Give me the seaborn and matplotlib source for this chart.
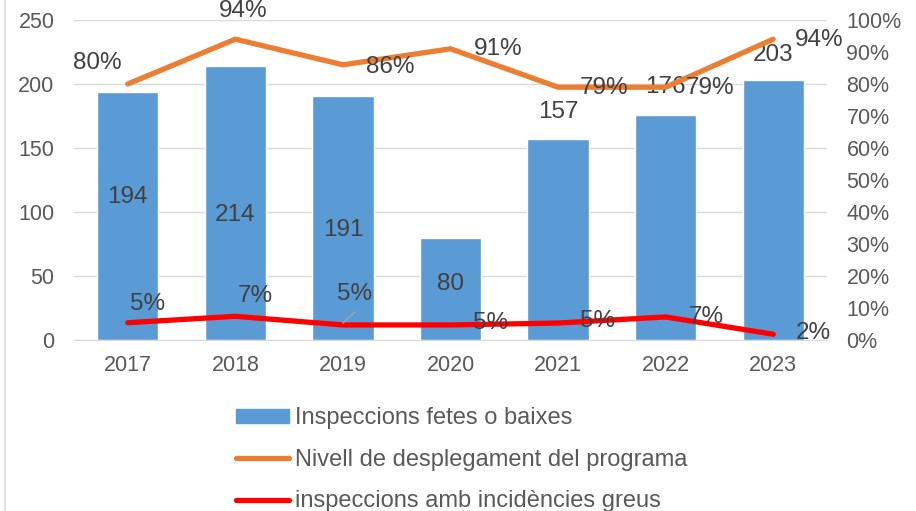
import numpy as np
import pandas as pd
import matplotlib
matplotlib.use("Agg")
import matplotlib.pyplot as plt
import seaborn as sns
from matplotlib.lines import Line2D
from matplotlib.patches import Patch

####Data#######################################################################
years = ["2017", "2018", "2019", "2020", "2021", "2022", "2023"]
inspeccions = [194, 214, 191, 80, 157, 176, 203]
desplegament = [0.80, 0.94, 0.86, 0.91, 0.79, 0.79, 0.94]
incidencies = [0.054, 0.074, 0.047, 0.047, 0.053, 0.072, 0.018]

bar_label = "Inspeccions fetes o baixes"
orange_label = "Nivell de desplegament del programa"
red_label = "inspeccions amb incidències greus"

####Style######################################################################
sns.set_style("white")
plt.rcParams['font.family'] = ['Liberation Sans', 'DejaVu Sans']

BLUE = "#5B9BD5"
ORANGE = "#ED7D31"
RED = "#FF0000"
TICK = "#595959"
LABEL = "#404040"
GRID = "#D9D9D9"

df = pd.DataFrame({"year": years, "n": inspeccions,
                   "pct": desplegament, "inc": incidencies})
df["pos"] = np.arange(len(df))

fig = plt.figure(figsize=(9.16, 5.11), dpi=100)
ax = fig.add_axes([74 / 916, 1 - 340 / 511, (827 - 74) / 916, 320 / 511])
ax2 = ax.twinx()

sns.barplot(data=df, x="year", y="n", color=BLUE, width=0.57,
            saturation=1, ax=ax)
ax.set_ylim(0, 250)
ax.set_yticks(range(0, 251, 50))
ax.set_xlim(-0.5, len(df) - 0.5)
ax.set_xlabel("")
ax.set_ylabel("")
ax.grid(axis="y", color=GRID, lw=1)
ax.set_axisbelow(True)
for s in ["top", "right", "left"]:
    ax.spines[s].set_visible(False)
ax.spines["bottom"].set_color(GRID)
ax.tick_params(axis="both", colors=TICK, labelsize=15.5, length=0)
ax.tick_params(axis="y", pad=14)
ax.tick_params(axis="x", pad=11)

sns.lineplot(data=df, x="pos", y="pct", color=ORANGE, lw=3.8, ax=ax2)
sns.lineplot(data=df, x="pos", y="inc", color=RED, lw=3.8, ax=ax2)
ax2.set_ylim(0, 1)
ax2.set_xlim(-0.5, len(df) - 0.5)
ax2.set_yticks(np.arange(0, 1.01, 0.1))
ax2.set_yticklabels([f"{int(round(v * 100))}%" for v in np.arange(0, 1.01, 0.1)])
ax2.set_xlabel("")
ax2.set_ylabel("")
for s in ax2.spines.values():
    s.set_visible(False)
ax2.tick_params(axis="y", colors=TICK, labelsize=15.5, length=0, pad=14)

####Data labels (Excel-style placement)########################################
bar_lbl_y = [112, 98, 86, 44, 178, 198, 223]
for i, v in enumerate(inspeccions):
    ax.text(i, bar_lbl_y[i], str(v), ha="center", va="center",
            fontsize=17.5, color=LABEL)

pct_dx = [-0.28, 0.07, 0.44, 0.44, 0.43, 0.41, 0.43]
pct_y = [0.866, 1.028, 0.853, 0.909, 0.787, 0.787, 0.9375]
for i, v in enumerate(desplegament):
    ax2.text(i + pct_dx[i], pct_y[i], f"{v:.0%}", ha="center", va="center",
             fontsize=17.5, color=LABEL)

inc_dx = [0.18, 0.19, 0.11, 0.37, 0.37, 0.38, 0.37]
inc_y = [0.113, 0.1375, 0.144, 0.053, 0.059, 0.072, 0.023]
for i, v in enumerate(incidencies):
    ax2.text(i + inc_dx[i], inc_y[i], f"{v:.0%}", ha="center", va="center",
             fontsize=17.5, color=LABEL)
# leader line for 2019 label
ax2.plot([2.0, 2.11], [0.053, 0.0875], color="#A6A6A6", lw=1)

####Chart border and legend####################################################
fig.add_artist(Line2D([5 / 916, 5 / 916], [0, 1], color=GRID, lw=1.2))

handles = [Patch(facecolor=BLUE, edgecolor=BLUE),
           Line2D([], [], color=ORANGE, lw=3.8, solid_capstyle="round"),
           Line2D([], [], color=RED, lw=3.8, solid_capstyle="round")]
fig.legend(handles, [bar_label, orange_label, red_label],
           loc="upper left", bbox_to_anchor=(215 / 916, 1 - 386 / 511),
           frameon=False, fontsize=17, labelcolor=TICK,
           handlelength=2.25, handletextpad=0.25, labelspacing=0.83,
           handleheight=0.55)

plt.savefig("out.png", dpi=100)
